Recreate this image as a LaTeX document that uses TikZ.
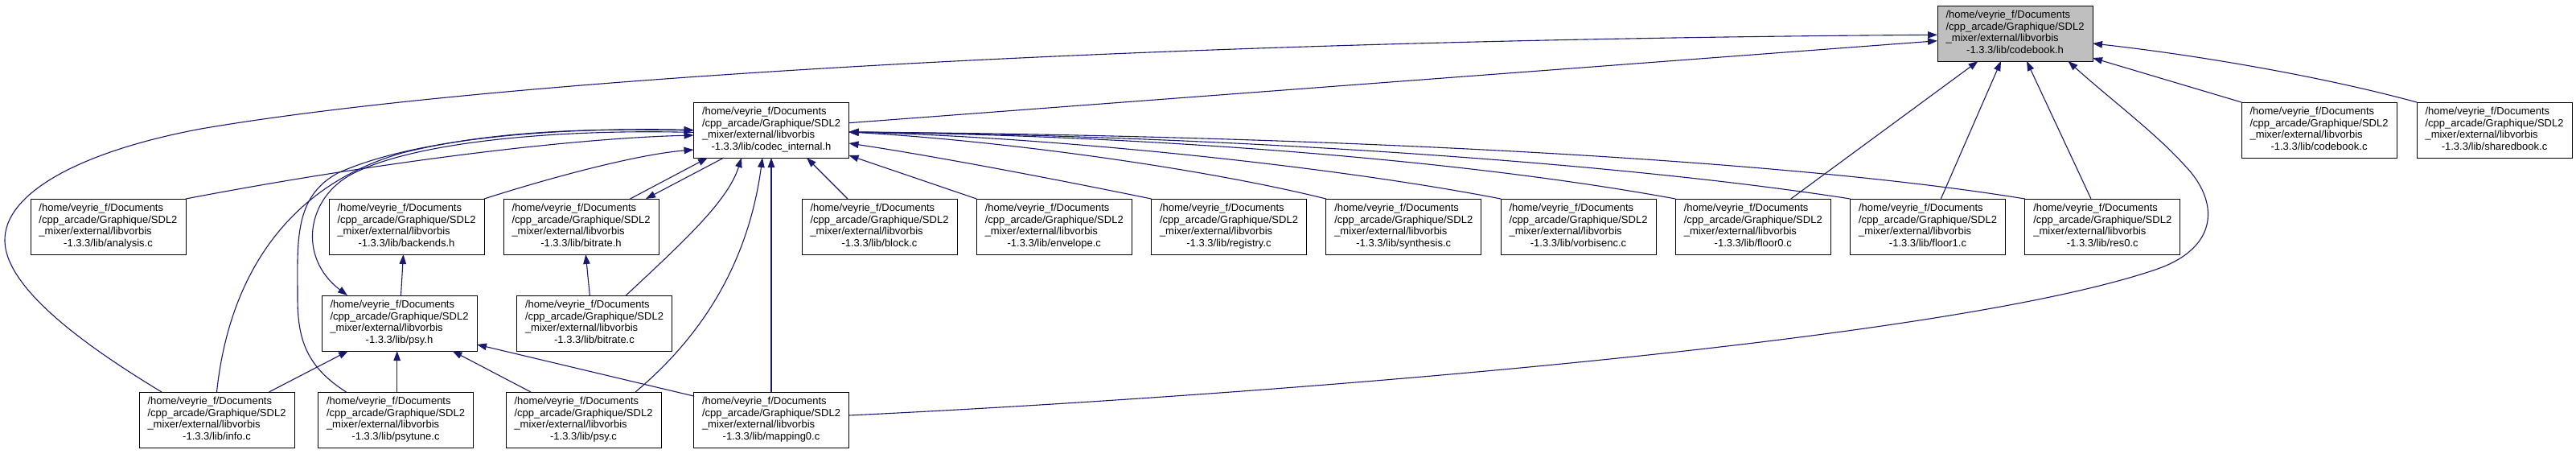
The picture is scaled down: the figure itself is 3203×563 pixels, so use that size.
\documentclass[tikz,border=0pt]{standalone}
\usepackage{fontspec}
\setmainfont{Liberation Sans}
\usetikzlibrary{arrows.meta,calc}
\definecolor{edgec}{RGB}{25,25,112}
\definecolor{hlgray}{RGB}{191,191,191}
\newcommand{\lbl}[1]{\begin{tabular}{@{}l@{}}/home/veyrie\_f/Documents\\/cpp\_arcade/Graphique/SDL2\\\_mixer/external/libvorbis\\\multicolumn{1}{@{}c@{}}{-1.3.3/lib/#1}\end{tabular}}
\begin{document}
\begin{tikzpicture}[x=1pt,y=-1pt,
  filebox/.style={draw=black, line width=1pt, fill=white, minimum width=193pt, minimum height=69pt,
    inner sep=0pt, outer sep=0pt, font=\fontsize{13}{14.7}\selectfont},
  hlbox/.style={filebox, fill=hlgray},
  dep/.style={draw=edgec, line width=1.1pt, -{Triangle[length=12pt,width=8.5pt]}, color=edgec}]
\useasboundingbox (0,0) rectangle (3203,563);
% nodes
\node[hlbox]   (cbh)       at (2505.5,41.5)  {\lbl{codebook.h}};
\node[filebox] (ci)        at (959,161.5)    {\lbl{codec\_internal.h}};
\node[filebox] (cbc)       at (2883.5,161.5) {\lbl{codebook.c}};
\node[filebox] (sbc)       at (3101.5,161.5) {\lbl{sharedbook.c}};
\node[filebox] (analysis)  at (134.5,281.5)  {\lbl{analysis.c}};
\node[filebox] (backends)  at (505.5,281.5)  {\lbl{backends.h}};
\node[filebox] (bitrateh)  at (722.5,281.5)  {\lbl{bitrate.h}};
\node[filebox] (block)     at (1093.5,281.5) {\lbl{block.c}};
\node[filebox] (envelope)  at (1310.75,281.5){\lbl{envelope.c}};
\node[filebox] (registry)  at (1528,281.5)   {\lbl{registry.c}};
\node[filebox] (synthesis) at (1745.25,281.5){\lbl{synthesis.c}};
\node[filebox] (vorbisenc) at (1962.5,281.5) {\lbl{vorbisenc.c}};
\node[filebox] (floorz)    at (2179.75,281.5){\lbl{floor0.c}};
\node[filebox] (floorone)  at (2397,281.5)   {\lbl{floor1.c}};
\node[filebox] (reszero)   at (2614.25,281.5){\lbl{res0.c}};
\node[filebox] (psyh)      at (496.5,401.5)  {\lbl{psy.h}};
\node[filebox] (bitratec)  at (739,401.5)    {\lbl{bitrate.c}};
\node[filebox] (info)      at (269.5,521.5)  {\lbl{info.c}};
\node[filebox] (psytune)   at (492,521.5)    {\lbl{psytune.c}};
\node[filebox] (psyc)      at (725.5,521.5)  {\lbl{psy.c}};
\node[filebox] (mapping)   at (959,521.5)    {\lbl{mapping0.c}};
% edges to codebook.h
\draw[dep] ($(ci.east)+(0,-8.8)$) -- ($(cbh.west)+(0,9.2)$);
\draw[dep] ($(info.north)+(-68.5,0)$) .. controls (110,432) and (8,360) .. (6,300)
  .. controls (4,240) and (100,188) .. (250,160)
  .. controls (600,100) and (1400,50) .. ($(cbh.west)+(0,1.8)$);
\draw[dep] ($(floorz.north)+(47,0)$) -- ($(cbh.south)+(-46,0)$);
\draw[dep] ($(floorone.north)+(16.3,0)$) -- ($(cbh.south)+(-17.5,0)$);
\draw[dep] ($(reszero.north)+(-14.3,0)$) -- ($(cbh.south)+(14.5,0)$);
\draw[dep] ($(mapping.east)+(0,-5.5)$) .. controls (1500,495) and (2400,430) .. (2680,335)
  .. controls (2760,308) and (2760,250) .. (2716,205)
  .. controls (2680,165) and (2620,120) .. ($(cbh.south)+(66,0)$);
\draw[dep] (cbc.north west) -- ($(cbh.south east)+(0,-4)$);
\draw[dep] (sbc.north west) .. controls (2880,93) and (2720,67) .. ($(cbh.east)+(0,12.5)$);
% edges to codec_internal.h (left side)
\draw[dep] (analysis.north east) .. controls (450,205) and (700,172) .. ($(ci.west)+(0,6.5)$);
\draw[dep] (info.north) .. controls (285,340) and (360,230) .. (500,190)
  .. controls (620,160) and (750,160) .. ($(ci.west)+(0,0.5)$);
\draw[dep] ($(psytune.north)+(-61.5,0)$) .. controls (380,455) and (370,420) .. (370,370)
  .. controls (370,300) and (365,245) .. (420,215)
  .. controls (520,170) and (700,158) .. (ci.west);
\draw[dep] ($(ci.west)+(0,3)$) .. controls (700,160) and (520,175) .. (440,215)
  .. controls (380,245) and (370,320) .. ($(psyh.north)+(-64.5,0)$);
\draw[dep] (backends.north east) .. controls (680,222) and (790,192) .. ($(ci.west)+(0,24.5)$);
% bitrate.h <-> codec_internal.h
\draw[dep] ($(bitrateh.north)+(61,0)$) -- ($(ci.south west)+(17.5,0)$);
\draw[dep] ($(ci.south west)+(37.5,0)$) -- ($(bitrateh.north)+(80.5,0)$);
% bottom of codec_internal.h
\draw[dep] ($(bitratec.north)+(39.3,0)$) .. controls (850,300) and (905,250) .. ($(ci.south)+(-37,0)$);
\draw[dep] ($(psyc.north)+(64.5,0)$) .. controls (870,420) and (930,330) .. ($(ci.south)+(-11,0)$);
\draw[dep] (mapping.north) -- (ci.south);
\draw[dep] ($(block.north)+(-39.5,0)$) -- ($(ci.south)+(44,0)$);
\draw[dep] (envelope.north west) -- ($(ci.south east)+(0,-3)$);
% right side of codec_internal.h
\draw[dep] (registry.north west) .. controls (1300,220) and (1150,192) .. ($(ci.east)+(0,16.5)$);
\draw[dep] (synthesis.north west) .. controls (1500,210) and (1250,175) .. ($(ci.east)+(0,2.5)$);
\draw[dep] (vorbisenc.north west) .. controls (1650,205) and (1300,170) .. ($(ci.east)+(0,2.5)$);
\draw[dep] (floorz.north west) .. controls (1800,195) and (1400,168) .. ($(ci.east)+(0,2.5)$);
\draw[dep] (floorone.north west) .. controls (2000,200) and (1500,168) .. ($(ci.east)+(0,2.5)$);
\draw[dep] (reszero.north west) .. controls (2200,195) and (1600,168) .. ($(ci.east)+(0,2.5)$);
% lower part
\draw[dep] ($(psyh.north)+(2,0)$) -- ($(backends.south)+(-4,0)$);
\draw[dep] ($(bitratec.north)+(-5.7,0)$) -- ($(bitrateh.south)+(5.8,0)$);
\draw[dep] ($(info.north)+(65,0)$) -- ($(psyh.south)+(-63.5,0)$);
\draw[dep] ($(psytune.north)+(1.7,0)$) -- ($(psyh.south)+(-2.8,0)$);
\draw[dep] ($(psyc.north)+(-65.5,0)$) -- ($(psyh.south)+(66,0)$);
\draw[dep] ($(mapping.north west)+(0,5)$) -- ($(psyh.east)+(0,26.5)$);
\end{tikzpicture}
\end{document}
